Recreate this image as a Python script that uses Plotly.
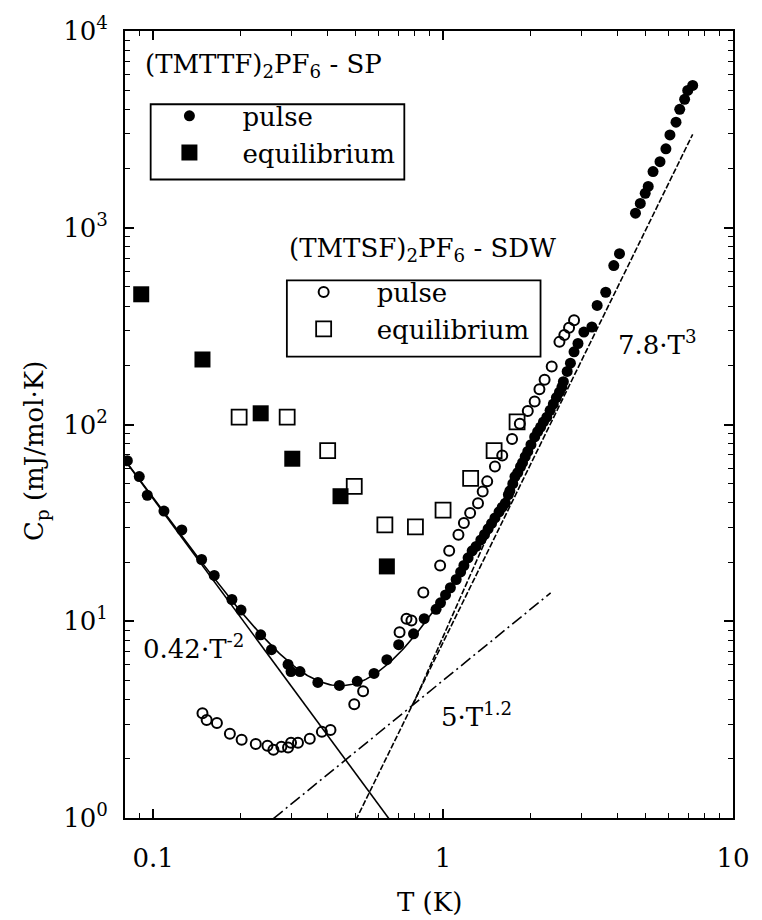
import numpy as np
import plotly.graph_objects as go

# ---------------- data ----------------
# (TMTTF)2PF6 - SP, pulse
sp_pulse_T = [0.0815, 0.0896, 0.0955, 0.109, 0.1256, 0.147, 0.1625, 0.187, 0.201, 0.235,
              0.256, 0.292, 0.299, 0.321, 0.370, 0.439, 0.506, 0.578, 0.640, 0.703,
              0.791, 0.861, 0.946, 0.98, 1.02, 1.06, 1.11, 1.15, 1.18, 1.22,
              1.26, 1.30, 1.35, 1.39, 1.43, 1.47, 1.51, 1.56, 1.60, 1.64,
              1.68, 1.70, 1.74, 1.77, 1.81, 1.85, 1.88, 1.92, 1.96, 2.01,
              2.07, 2.12, 2.17, 2.22, 2.28, 2.34, 2.40, 2.46, 2.52, 2.57,
              2.60, 2.68, 2.75, 2.83, 2.92, 3.06, 3.26, 3.40, 3.64, 3.88,
              4.06, 4.61, 4.79, 4.98, 5.10, 5.30, 5.60, 5.87, 6.06, 6.36,
              6.55, 6.81, 6.98, 7.26]
sp_pulse_C = [65.5, 54.4, 43.7, 36.3, 29.1, 20.6, 17.1, 12.9, 11.4, 8.53,
              7.17, 6.03, 5.55, 5.55, 4.89, 4.72, 4.95, 5.43, 6.38, 7.6,
              8.63, 10.3, 11.5, 12.4, 13.6, 14.8, 16.3, 17.8, 19.2, 21.0,
              22.8, 24.0, 25.9, 27.6, 29.5, 31.4, 33.5, 36.0, 38.0, 39.8,
              44.0, 46.0, 50.0, 54.4, 57.0, 61.0, 64.0, 68.6, 73.0, 79.0,
              86.5, 92.0, 97.0, 103, 109, 118, 127, 137, 146, 155,
              165, 186, 205, 234, 258, 295, 313, 403, 470, 642,
              738, 1186, 1330, 1496, 1622, 1930, 2168, 2518, 2965, 3441,
              3999, 4495, 4990, 5290]

# (TMTTF)2PF6 - SP, equilibrium
sp_eq_T = [0.0910, 0.148, 0.235, 0.302, 0.443, 0.640]
sp_eq_C = [459, 214, 114, 67, 43.2, 19.0]

# (TMTSF)2PF6 - SDW, pulse
sdw_pulse_T = [0.148, 0.153, 0.166, 0.184, 0.202, 0.226, 0.248, 0.260, 0.277, 0.292,
               0.299, 0.316, 0.347, 0.382, 0.409, 0.494, 0.530, 0.708, 0.748, 0.778,
               0.855, 0.977, 1.05, 1.13, 1.18, 1.24, 1.32, 1.37, 1.42, 1.51,
               1.60, 1.73, 1.84, 1.96, 2.07, 2.15, 2.24, 2.37, 2.52, 2.62, 2.72, 2.83]
sdw_pulse_C = [3.41, 3.15, 3.04, 2.68, 2.50, 2.38, 2.33, 2.22, 2.30, 2.28,
               2.41, 2.41, 2.53, 2.74, 2.80, 3.79, 4.41, 8.8, 10.3, 10.1,
               14.0, 19.2, 22.8, 27.5, 31.6, 35.5, 39.8, 45.7, 51.4, 61.1,
               69.5, 84.5, 101, 117, 131, 151, 169, 197, 263, 285, 310, 339]

# (TMTSF)2PF6 - SDW, equilibrium
sdw_eq_T = [0.198, 0.290, 0.400, 0.494, 0.630, 0.803, 1.00, 1.245, 1.50, 1.80]
sdw_eq_C = [109, 109, 73.6, 48.5, 30.9, 30.2, 36.7, 53.2, 73.6, 103]

# fit terms C = a * T^n
fit_coef = [0.42, 5.0, 7.8]
fit_exp = [-2.0, 1.2, 3.0]
fit_Tmin = [0.08, 0.26, 0.50]
fit_Tmax = [0.70, 2.35, 7.26]
sum_Tmin, sum_Tmax = 0.08, 1.6

# additional steep dashed guide line (end points)
aux_T = [0.79, 1.75]
aux_C = [3.8, 54]

x_tickvals = [0.1, 1, 10]
x_ticktext = ["0.1", "1", "10"]
y_tickvals = [1, 10, 100, 1000, 10000]
y_ticktext = ["10<sup>0</sup>", "10<sup>1</sup>", "10<sup>2</sup>", "10<sup>3</sup>", "10<sup>4</sup>"]

# ---------------- figure ----------------
FONT = "DejaVu Serif"
FS = 26
fig = go.Figure()

def term(i, T):
    return fit_coef[i] * np.power(T, fit_exp[i])

# T^-2 solid
T0 = np.geomspace(fit_Tmin[0], fit_Tmax[0], 60)
fig.add_trace(go.Scatter(x=T0, y=term(0, T0), mode="lines",
                         line=dict(color="black", width=1.6), showlegend=False, hoverinfo="skip"))
# T^1.2 dash-dot
T1 = np.geomspace(fit_Tmin[1], fit_Tmax[1], 60)
fig.add_trace(go.Scatter(x=T1, y=term(1, T1), mode="lines",
                         line=dict(color="black", width=1.6, dash="12px,4px,2px,4px"),
                         showlegend=False, hoverinfo="skip"))
# T^3 dashed
T2 = np.geomspace(fit_Tmin[2], fit_Tmax[2], 60)
fig.add_trace(go.Scatter(x=T2, y=term(2, T2), mode="lines",
                         line=dict(color="black", width=1.6, dash="6px,2px"),
                         showlegend=False, hoverinfo="skip"))
# steep dashed guide
fig.add_trace(go.Scatter(x=aux_T, y=aux_C, mode="lines",
                         line=dict(color="black", width=1.6, dash="6px,2px"),
                         showlegend=False, hoverinfo="skip"))
# total fit, solid
Ts = np.geomspace(sum_Tmin, sum_Tmax, 200)
fig.add_trace(go.Scatter(x=Ts, y=term(0, Ts) + term(1, Ts) + term(2, Ts), mode="lines",
                         line=dict(color="black", width=1.6), showlegend=False, hoverinfo="skip"))

NB = "\u00a0" * 4
fig.add_trace(go.Scatter(x=sp_pulse_T, y=sp_pulse_C, mode="markers", name=NB + "pulse",
                         marker=dict(symbol="circle", size=11, color="black"), legend="legend"))
fig.add_trace(go.Scatter(x=sp_eq_T, y=sp_eq_C, mode="markers", name=NB + "equilibrium",
                         marker=dict(symbol="square", size=16, color="black"), legend="legend"))
fig.add_trace(go.Scatter(x=sdw_pulse_T, y=sdw_pulse_C, mode="markers", name=NB + "pulse",
                         marker=dict(symbol="circle-open", size=10, color="black",
                                     line=dict(width=2, color="black")), legend="legend2"))
fig.add_trace(go.Scatter(x=sdw_eq_T, y=sdw_eq_C, mode="markers", name=NB + "equilibrium",
                         marker=dict(symbol="square-open", size=15, color="black",
                                     line=dict(width=1.8, color="black")), legend="legend2"))

# plot area in pixels: x 125..741, y 23..818
L, R, T_, B = 125, 741, 23, 818
W, H = R - L, B - T_

def px(x):
    return (x - L) / W

def py(y):
    return (B - y) / H

axis_common = dict(type="log", showline=True, linewidth=2, linecolor="black", mirror="allticks",
                   ticks="inside", ticklen=9, tickwidth=1.6, tickcolor="black",
                   showgrid=False, zeroline=False,
                   tickfont=dict(family=FONT, size=FS, color="black"))

x_minor = [0.09] + [k / 10 for k in range(2, 10)] + list(range(2, 10))
y_minor = [m * 10 ** d for d in range(0, 4) for m in range(2, 10)]

fig.update_xaxes(range=[np.log10(0.0800), 1], tickmode="array", tickvals=x_tickvals,
                 ticktext=x_ticktext, ticklabelstandoff=16,
                 minor=dict(tickmode="array", tickvals=x_minor, ticks="inside", ticklen=5,
                            tickwidth=1.3, tickcolor="black", showgrid=False),
                 **axis_common)
fig.update_yaxes(range=[0, 4], tickmode="array", tickvals=y_tickvals, ticktext=y_ticktext,
                 ticklabelstandoff=10,
                 minor=dict(tickmode="array", tickvals=y_minor, ticks="inside", ticklen=5,
                            tickwidth=1.3, tickcolor="black", showgrid=False),
                 **axis_common)

legend_common = dict(bgcolor="rgba(0,0,0,0)", borderwidth=0,
                     font=dict(family=FONT, size=FS, color="black"),
                     xanchor="left", yanchor="top", tracegroupgap=0, itemsizing="trace")

fig.update_layout(
    width=762, height=920,
    margin=dict(l=L, r=762 - R, t=T_, b=920 - B),
    paper_bgcolor="white", plot_bgcolor="white",
    font=dict(family=FONT, size=FS, color="black"),
    showlegend=True,
    legend=dict(x=px(170), y=py(85), **legend_common),
    legend2=dict(x=px(306), y=py(263), **legend_common),
)

# legend frames
fig.add_shape(type="rect", xref="paper", yref="paper", x0=px(151), x1=px(408),
              y0=py(173), y1=py(97), line=dict(color="black", width=1.8))
fig.add_shape(type="rect", xref="paper", yref="paper", x0=px(289), x1=px(546),
              y0=py(352), y1=py(275), line=dict(color="black", width=1.8))

def ann(text, x, y, xanchor="left", yanchor="middle", angle=0):
    fig.add_annotation(text=text, xref="paper", yref="paper", x=x, y=y, showarrow=False,
                       xanchor=xanchor, yanchor=yanchor, textangle=angle,
                       font=dict(family=FONT, size=FS, color="black"))

ann("(TMTTF)<sub>2</sub>PF<sub>6</sub> - SP", px(143), py(58))
ann("(TMTSF)<sub>2</sub>PF<sub>6</sub> - SDW", px(289), py(244))
ann("0.42·T<sup>-2</sup>", px(141), py(645))
ann("5·T<sup>1.2</sup>", px(443), py(714))
ann("7.8·T<sup>3</sup>", px(622), py(338))
ann("C<sub>p</sub> (mJ/mol·K)", px(35), py(447), xanchor="center", angle=-90)
ann("T (K)", px(433), py(903), xanchor="center")

fig.write_html("out.html")
